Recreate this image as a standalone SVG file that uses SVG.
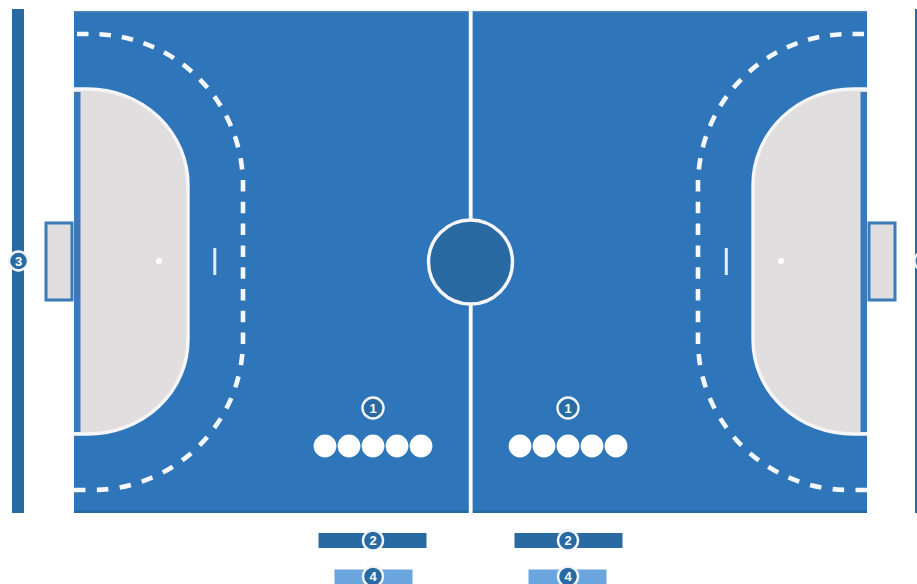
<svg xmlns="http://www.w3.org/2000/svg" width="917" height="584" viewBox="0 0 917 584">
<style>
.line{fill:none;stroke:#f6f6f8;stroke-width:3.400}
.dash{fill:none;stroke:#f4f7fb;stroke-width:4.600;stroke-dasharray:11.500 11}
.bdash{fill:none;stroke:#f4f7fb;stroke-width:4.600;stroke-dasharray:11.500 11.400}
.vdash{fill:none;stroke:#f4f7fb;stroke-width:4.600;stroke-dasharray:11.500 10.300}
.grey{fill:#e0dedf}
.strip{fill:#3a7abb}
.goal{fill:#e0dedf;stroke:#3d7ab8;stroke-width:3}
.dark{fill:#2a6aa3}
.light{fill:#6aa6dd}
.ball{fill:#fff}
.badge{fill:#2a6aa3;stroke:#f2f6fa;stroke-width:2.400}
.num{fill:#fff;font:bold 13px "Liberation Sans",Arial,sans-serif;text-anchor:middle}
</style>
<rect width="917" height="584" fill="#fff"/>
<g id="court">
<rect x="74" y="11" width="793" height="502" fill="#2f75b9"/>
<rect x="74" y="11" width="793" height="1.500" fill="#4f85ba"/>
<rect x="74" y="510.500" width="793" height="2.500" fill="#2a6aa3"/>
<rect x="468.800" y="11" width="3.800" height="502" fill="#fff"/>
<circle cx="470.500" cy="262" r="42" fill="#2a6aa3" stroke="#f6f6f8" stroke-width="3.400"/>
</g>
<g id="left-zone">
<path class="grey" d="M74 89H88A100 96 0 0 1 188 185V340A100 94 0 0 1 88 434H74Z"/>
<rect class="strip" x="74" y="92" width="6.500" height="340"/>
<path class="line" d="M74 89H88A100 96 0 0 1 188 185V340A100 94 0 0 1 88 434H74"/>
<path class="dash" d="M77 34H92A151 151 0 0 1 242.500 173"/>
<path class="vdash" d="M243 180V345"/>
<path class="bdash" d="M74 490H92A151 150 0 0 0 242.350 354"/>
<rect x="213.300" y="248" width="3" height="27" fill="#e4edf6"/>
<circle cx="159" cy="261" r="3" fill="#fff"/>
<rect class="goal" x="46" y="223" width="26" height="77"/>
</g>
<g id="right-zone">
<path class="grey" d="M867 89H853A100 96 0 0 0 753 185V340A100 94 0 0 0 853 434H867Z"/>
<rect class="strip" x="860.500" y="92" width="6.500" height="340"/>
<path class="line" d="M867 89H853A100 96 0 0 0 753 185V340A100 94 0 0 0 853 434H867"/>
<path class="dash" d="M864 34H849A151 151 0 0 0 698.500 173"/>
<path class="vdash" d="M698 180V345"/>
<path class="bdash" d="M867 490H849A151 150 0 0 1 698.650 354"/>
<rect x="724.800" y="248" width="3" height="27" fill="#e4edf6"/>
<circle cx="781" cy="261" r="3" fill="#fff"/>
<rect class="goal" x="869" y="223" width="26" height="77"/>
</g>
<g id="balls-left">
<circle class="ball" cx="325" cy="446" r="11.400"/><circle class="ball" cx="349" cy="446" r="11.400"/><circle class="ball" cx="373" cy="446" r="11.400"/><circle class="ball" cx="397" cy="446" r="11.400"/><circle class="ball" cx="421" cy="446" r="11.400"/>
<circle class="badge" cx="373" cy="408" r="10.500"/><text class="num" x="373" y="412.600">1</text>
</g>
<g id="balls-right">
<circle class="ball" cx="520" cy="446" r="11.400"/><circle class="ball" cx="544" cy="446" r="11.400"/><circle class="ball" cx="568" cy="446" r="11.400"/><circle class="ball" cx="592" cy="446" r="11.400"/><circle class="ball" cx="616" cy="446" r="11.400"/>
<circle class="badge" cx="568" cy="408" r="10.500"/><text class="num" x="568" y="412.600">1</text>
</g>
<g id="bar-3-left">
<rect class="dark" x="12" y="9" width="12" height="504"/>
<circle class="badge" cx="18.500" cy="261" r="9.500"/><text class="num" x="18.500" y="265.600">3</text>
</g>
<g id="bar-3-right">
<rect class="dark" x="915" y="9" width="2" height="504"/>
<circle class="badge" cx="924" cy="261" r="9.500"/>
</g>
<g id="bar-2-left">
<rect class="dark" x="318.500" y="533" width="108" height="15"/>
<circle class="badge" cx="373" cy="540.500" r="10"/><text class="num" x="373" y="545.100">2</text>
</g>
<g id="bar-2-right">
<rect class="dark" x="514.500" y="533" width="108" height="15"/>
<circle class="badge" cx="568" cy="540.500" r="10"/><text class="num" x="568" y="545.100">2</text>
</g>
<g id="bar-4-left">
<rect class="light" x="334.500" y="569.500" width="78" height="14.500"/>
<circle class="badge" cx="373" cy="576.500" r="10"/><text class="num" x="373" y="581.100">4</text>
</g>
<g id="bar-4-right">
<rect class="light" x="528.500" y="569.500" width="78" height="14.500"/>
<circle class="badge" cx="568" cy="576.500" r="10"/><text class="num" x="568" y="581.100">4</text>
</g>
</svg>
